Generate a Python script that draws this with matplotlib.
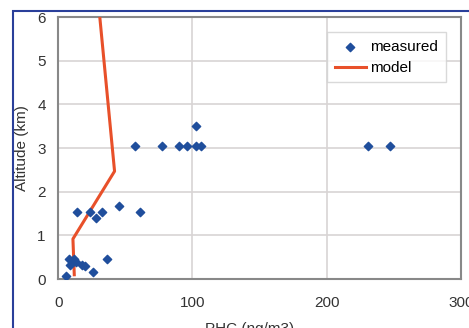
import matplotlib
matplotlib.use("Agg")
import matplotlib.pyplot as plt
from matplotlib.patches import Rectangle

plt.rcParams['font.family'] = ['Liberation Sans', 'DejaVu Sans']

# measured PHC vs altitude
meas_phc = [57, 77, 90, 96, 103, 106, 103, 231, 247,
            14, 24, 28, 33, 45, 61,
            36, 26, 6, 8, 12, 9, 13, 18, 20]
meas_alt = [3.05, 3.05, 3.05, 3.05, 3.05, 3.05, 3.5, 3.05, 3.05,
            1.53, 1.53, 1.40, 1.53, 1.67, 1.53,
            0.46, 0.16, 0.07, 0.45, 0.45, 0.32, 0.40, 0.32, 0.30]

# model profile
model_phc = [12, 11, 42, 31]
model_alt = [0.1, 0.92, 2.47, 6.0]

xticks = [0, 100, 200, 300]
yticks = [0, 1, 2, 3, 4, 5, 6]

fig = plt.figure(figsize=(4.69, 3.28), dpi=100)
ax = fig.add_axes([0.124, 0.149, 0.859, 0.799])

ax.plot(model_phc, model_alt, color='#e8502a', lw=2.2, label='model', zorder=3)
ax.scatter(meas_phc, meas_alt, marker='D', s=18, color='#1f4e9c', label='measured', zorder=4)

ax.set_xlim(0, 300)
ax.set_ylim(0, 6)
ax.set_xticks(xticks)
ax.set_yticks(yticks)
ax.grid(True, color='#d8d4d4', lw=1.2)
ax.set_axisbelow(True)
for s in ax.spines.values():
    s.set_color('#888888')
    s.set_linewidth(1.5)
ax.tick_params(length=0, labelsize=11, colors='#333333')
ax.tick_params(axis='x', pad=12)
ax.tick_params(axis='y', pad=9)
ax.set_ylabel('Altitude (km)', fontsize=11, color='#333333', labelpad=6)

handles, labels = ax.get_legend_handles_labels()
leg = ax.legend(handles[::-1], labels[::-1], loc='upper right', fontsize=11,
                frameon=True, fancybox=False, edgecolor='#d0d0d0',
                borderaxespad=1.0, handlelength=2.0, handletextpad=0.3,
                labelspacing=0.45, borderpad=0.5)

fig.text(250 / 469, (328 - 322) / 328, 'PHC (ng/m3)', ha='center', va='top',
         fontsize=11, color='#333333')

# blue frame around the figure (cropped at right/bottom)
fig.patches.append(Rectangle((13 / 469, -0.1), 1.0, (328 - 11) / 328 + 0.1,
                             transform=fig.transFigure, fill=False,
                             edgecolor='#2a3f9a', lw=1.5, zorder=0))

fig.savefig('out.png', dpi=100)
